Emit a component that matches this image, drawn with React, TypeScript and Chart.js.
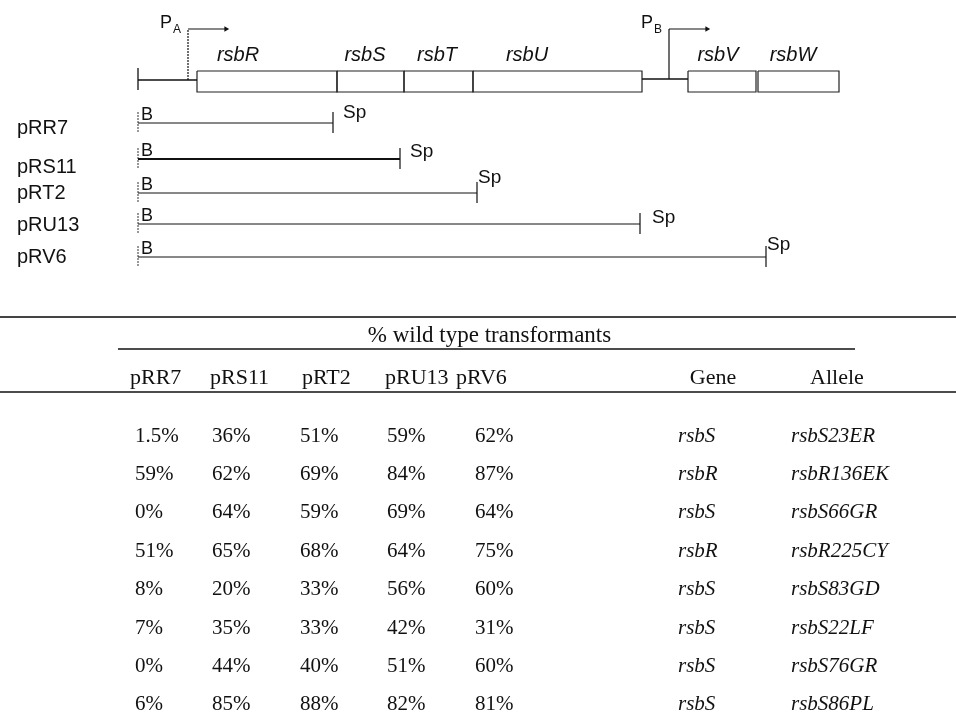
import React, { useEffect, useRef } from "react";
import { Chart, registerables } from "chart.js";
Chart.register(...registerables);

// ---------- DATA ----------
const geneNames = ["rsbR", "rsbS", "rsbT", "rsbU", "rsbV", "rsbW"];
const geneStarts = [197, 337, 404, 473, 688, 758];
const geneEnds = [337, 404, 473, 642, 756, 839];
const mapStart = 138;
const promoterNames = ["A", "B"];
const promoterPos = [188, 669];
const plasmidNames = ["pRR7", "pRS11", "pRT2", "pRU13", "pRV6"];
const plasmidStart = [138, 138, 138, 138, 138];
const plasmidEnd = [333, 400, 477, 640, 766];

const tableTitle = "% wild type transformants";
const columnNames = ["pRR7", "pRS11", "pRT2", "pRU13", "pRV6"];
const pRR7 = [1.5, 59, 0, 51, 8, 7, 0, 6];
const pRS11 = [36, 62, 64, 65, 20, 35, 44, 85];
const pRT2 = [51, 69, 59, 68, 33, 33, 40, 88];
const pRU13 = [59, 84, 69, 64, 56, 42, 51, 82];
const pRV6 = [62, 87, 64, 75, 60, 31, 60, 81];
const geneCol = ["rsbS", "rsbR", "rsbS", "rsbR", "rsbS", "rsbS", "rsbS", "rsbS"];
const alleleCol = ["rsbS23ER", "rsbR136EK", "rsbS66GR", "rsbR225CY", "rsbS83GD", "rsbS22LF", "rsbS76GR", "rsbS86PL"];

// ---------- LAYOUT ----------
const W = 956;
const H = 713;
const mapY = 80;
const boxTop = 71;
const boxBottom = 92;
const promoterTop = 29;
const arrowLen = 41;
const geneLabelX = [238, 365, 437, 527, 718, 793];
const geneLabelY = 55;
const plasmidLineY = [123, 159, 193, 224, 257];
const plasmidLabelY = [128, 167, 193, 225, 257];
const plasmidLineW = [1, 2, 1, 1, 1];
const spDx = [10, 10, 1, 12, 1];
const spDy = [-10, -7, -15, -6, -12];

const topRuleY = 317;
const spanTextY = 336;
const spanLineY = 349;
const spanX = [118, 855];
const headerY = 378;
const headerRuleY = 392;
const rowY0 = 436;
const rowStep = 38.4;
const headerX = [130, 210, 302, 385, 456];
const colX = [135, 212, 300, 387, 475];
const geneHeaderX = 713;
const alleleHeaderX = 837;
const geneX = 678;
const alleleX = 791;

const INK = "#111";
const SANS = "'Liberation Sans', Arial, sans-serif";
const SERIF = "'Liberation Serif', 'Times New Roman', serif";

function seg(points: { x: number; y: number }[], color: string, width: number, dash: number[] = []) {
  return {
    type: "scatter" as const,
    data: points,
    showLine: true,
    borderColor: color,
    borderWidth: width,
    borderDash: dash,
    pointRadius: 0,
    pointHoverRadius: 0,
    fill: false,
    tension: 0,
    clip: false,
    borderCapStyle: "butt" as const,
  };
}

export default function App() {
  const ref = useRef<HTMLCanvasElement | null>(null);

  useEffect(() => {
    document.body.style.margin = "0";
    const canvas = ref.current;
    if (!canvas) return;
    const datasets: any[] = [];

    // backbone
    datasets.push(seg([{ x: mapStart, y: mapY }, { x: geneStarts[0], y: mapY }], INK, 1.3));
    datasets.push(seg([{ x: mapStart, y: boxTop - 3 }, { x: mapStart, y: boxBottom - 2 }], INK, 1.3));
    datasets.push(seg([{ x: geneEnds[3], y: mapY - 1 }, { x: geneStarts[4], y: mapY - 1 }], INK, 1.3));
    // gene boxes
    geneNames.forEach((_, i) => {
      const a = geneStarts[i], b = geneEnds[i];
      datasets.push(
        seg(
          [
            { x: a, y: boxTop },
            { x: b, y: boxTop },
            { x: b, y: boxBottom },
            { x: a, y: boxBottom },
            { x: a, y: boxTop },
          ],
          "#222",
          1.2
        )
      );
    });
    // promoters
    promoterPos.forEach((p, i) => {
      datasets.push(
        seg([{ x: p, y: mapY - (i === 1 ? 1 : 0) }, { x: p, y: promoterTop }], INK, 1.2, i === 0 ? [2, 1] : [])
      );
      datasets.push(seg([{ x: p, y: promoterTop }, { x: p + arrowLen - 4, y: promoterTop }], INK, 1.2));
      datasets.push({
        type: "scatter",
        data: [{ x: p + arrowLen - 3, y: promoterTop }],
        pointStyle: "triangle",
        rotation: 90,
        pointRadius: 3.2,
        backgroundColor: INK,
        borderColor: INK,
        borderWidth: 0,
        clip: false,
      });
    });
    // plasmids
    plasmidNames.forEach((_, i) => {
      const y = plasmidLineY[i];
      datasets.push(seg([{ x: plasmidStart[i], y }, { x: plasmidEnd[i], y }], INK, plasmidLineW[i]));
      datasets.push(seg([{ x: plasmidStart[i], y: y - 11 }, { x: plasmidStart[i], y: y + 10 }], "#333", 1, [2, 1]));
      datasets.push(seg([{ x: plasmidEnd[i], y: y - 11 }, { x: plasmidEnd[i], y: y + 10 }], INK, 1.2));
    });
    // table rules
    datasets.push(seg([{ x: 0, y: topRuleY }, { x: W, y: topRuleY }], "#444", 2));
    datasets.push(seg([{ x: spanX[0], y: spanLineY }, { x: spanX[1], y: spanLineY }], INK, 1.3));
    datasets.push(seg([{ x: 0, y: headerRuleY }, { x: W, y: headerRuleY }], INK, 1.5));

    const textPlugin = {
      id: "texts",
      afterDatasetsDraw(chart: any) {
        const ctx = chart.ctx as CanvasRenderingContext2D;
        const xs = chart.scales.x;
        const ys = chart.scales.y;
        const X = (v: number) => xs.getPixelForValue(v);
        const Y = (v: number) => ys.getPixelForValue(v);
        ctx.save();
        ctx.fillStyle = INK;
        ctx.textBaseline = "middle";

        // gene labels
        ctx.font = `italic 20px ${SANS}`;
        ctx.textAlign = "center";
        geneNames.forEach((g, i) => ctx.fillText(g, X(geneLabelX[i]), Y(geneLabelY)));

        // promoter labels
        promoterPos.forEach((p, i) => {
          ctx.textAlign = "left";
          ctx.font = `18px ${SANS}`;
          ctx.textBaseline = "alphabetic";
          ctx.fillText("P", X(p - 28), Y(promoterTop - 1));
          ctx.font = `12px ${SANS}`;
          ctx.fillText(promoterNames[i], X(p - 15), Y(promoterTop + 4));
          ctx.textBaseline = "middle";
        });

        // plasmid labels
        plasmidNames.forEach((n, i) => {
          ctx.font = `20px ${SANS}`;
          ctx.textAlign = "left";
          ctx.fillText(n, X(17), Y(plasmidLabelY[i]));
          ctx.font = `18px ${SANS}`;
          ctx.fillText("B", X(plasmidStart[i] + 3), Y(plasmidLineY[i] - 8));
          ctx.font = `19px ${SANS}`;
          ctx.fillText("Sp", X(plasmidEnd[i] + spDx[i]), Y(plasmidLineY[i] + spDy[i]));
        });

        // table title and headers
        ctx.font = `23px ${SERIF}`;
        ctx.textAlign = "center";
        ctx.fillText(tableTitle, X((spanX[0] + spanX[1]) / 2 + 3), Y(spanTextY));
        ctx.font = `22px ${SERIF}`;
        ctx.textAlign = "left";
        columnNames.forEach((c, i) => ctx.fillText(c, X(headerX[i]), Y(headerY)));
        ctx.textAlign = "center";
        ctx.fillText("Gene", X(geneHeaderX), Y(headerY));
        ctx.fillText("Allele", X(alleleHeaderX), Y(headerY));

        // table cells
        const cols = [pRR7, pRS11, pRT2, pRU13, pRV6];
        ctx.font = `21px ${SERIF}`;
        ctx.textAlign = "left";
        cols.forEach((col, j) => {
          col.forEach((v, r) => ctx.fillText(`${v}%`, X(colX[j]), Y(rowY0 + r * rowStep)));
        });
        ctx.font = `italic 21px ${SERIF}`;
        geneCol.forEach((g, r) => ctx.fillText(g, X(geneX), Y(rowY0 + r * rowStep)));
        alleleCol.forEach((a, r) => ctx.fillText(a, X(alleleX), Y(rowY0 + r * rowStep)));
        ctx.restore();
      },
    };

    const chart = new Chart(canvas, {
      type: "scatter",
      data: { datasets },
      options: {
        animation: false,
        responsive: false,
        maintainAspectRatio: false,
        layout: { padding: 0, autoPadding: false },
        events: [],
        plugins: { legend: { display: false }, tooltip: { enabled: false } },
        scales: {
          x: { type: "linear", min: 0, max: W, display: false },
          y: { type: "linear", min: 0, max: H, reverse: true, display: false },
        },
      },
      plugins: [textPlugin],
    });
    return () => chart.destroy();
  }, []);

  return (
    <div style={{ position: "absolute", left: 0, top: 0, width: W, height: H, background: "#fff" }}>
      <canvas ref={ref} width={W} height={H} />
    </div>
  );
}
